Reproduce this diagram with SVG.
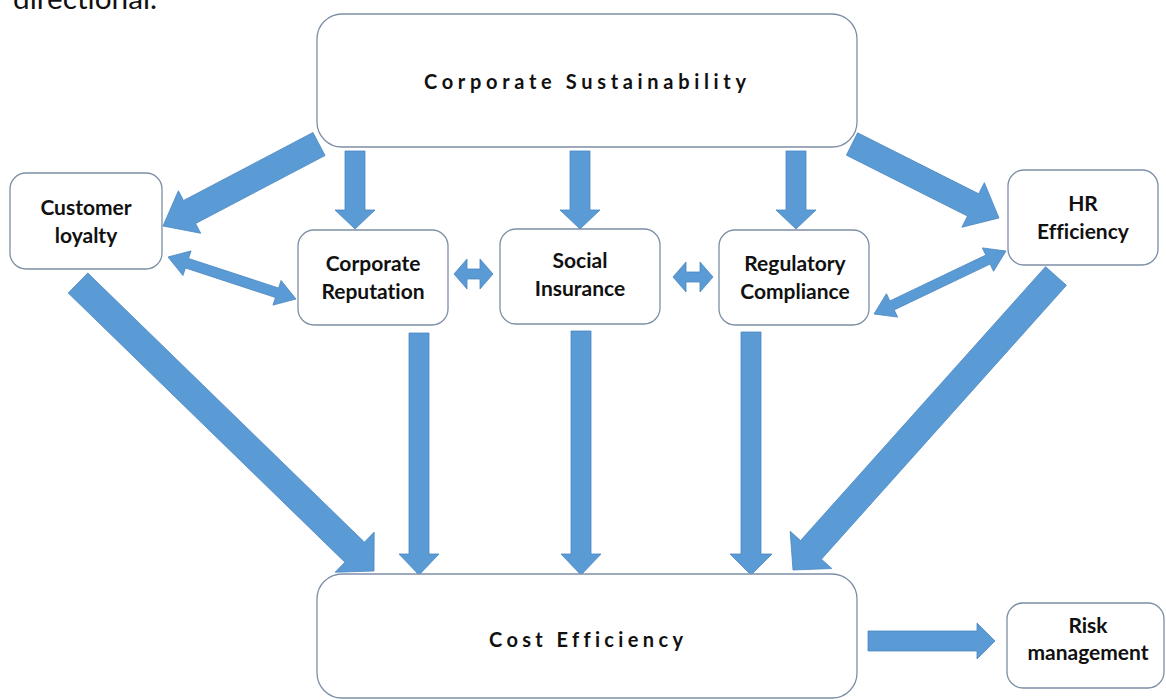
<svg xmlns="http://www.w3.org/2000/svg" width="1166" height="700" viewBox="0 0 1166 700">
  <style>
    text { font-variant-ligatures: none; font-feature-settings: "liga" 0; }
    .box { fill: #ffffff; stroke: #7d8fa6; stroke-width: 1.3; }
    .lbl { font-family: Lato, "Open Sans", "Liberation Sans", sans-serif; font-weight: bold; font-size: 21px; fill: #111111; text-anchor: middle; }
    .title { font-family: Lato, "Open Sans", "Liberation Sans", sans-serif; font-weight: bold; font-size: 20px; fill: #111111; }
    .body { font-family: Lato, "Open Sans", "Liberation Sans", sans-serif; font-size: 29px; fill: #111111; }
    .arrow { fill: #5b9bd5; stroke: #4a86c0; stroke-width: 0.8; stroke-linejoin: miter; }
  </style>

  <rect width="1166" height="700" fill="#ffffff"/>

  <!-- tail of the preceding paragraph -->
  <text class="body" x="13" y="9" textLength="144" lengthAdjust="spacingAndGlyphs">directional.</text>

  <!-- connectors -->
  <g id="connectors">
    <!-- Corporate Sustainability -> Customer loyalty -->
    <polygon class="arrow" points="312.95,132.49 325.05,155.51 195.61,223.55 200.73,233.29 163,226 178.39,190.79 183.51,200.53"/>
    <!-- Corporate Sustainability -> Corporate Reputation / Social Insurance / Regulatory Compliance -->
    <polygon class="arrow" points="345,151 365,151 365,210 375,210 355,229 335,210 345,210"/>
    <polygon class="arrow" points="570,151 590,151 590,210 600,210 580,229 560,210 570,210"/>
    <polygon class="arrow" points="786,151 806,151 806,210 816,210 796,229 776,210 786,210"/>
    <!-- Corporate Sustainability -> HR Efficiency -->
    <polygon class="arrow" points="857.62,132.84 846.38,155.16 967.48,216.12 961.86,227.29 999,218 984.34,182.63 978.72,193.8"/>

    <!-- Customer loyalty <-> Corporate Reputation -->
    <polygon class="arrow" points="168,257 191.05,250.89 188.56,258.49 278.56,288.01 281.05,280.41 296,299 272.95,305.11 275.44,297.51 185.44,267.99 182.95,275.59"/>
    <!-- Corporate Reputation <-> Social Insurance -->
    <polygon class="arrow" points="454,274 467,259 467,269 480,269 480,259 493,274 480,289 480,279 467,279 467,289"/>
    <!-- Social Insurance <-> Regulatory Compliance -->
    <polygon class="arrow" points="673,277 686,262 686,272 700,272 700,262 713,277 700,292 700,282 686,282 686,292"/>
    <!-- Regulatory Compliance <-> HR Efficiency -->
    <polygon class="arrow" points="874,314 886.45,293.66 889.9,300.88 985.8,255.1 982.35,247.88 1006,251 993.55,271.34 990.1,264.12 894.2,309.9 897.65,317.12"/>

    <!-- Customer loyalty -> Cost Efficiency -->
    <polygon class="arrow" points="87.76,272.97 68.24,293.03 344.89,562.2 335.13,572.24 374,571 374.17,532.1 364.41,542.14"/>
    <!-- Corporate Reputation / Social Insurance / Regulatory Compliance -> Cost Efficiency -->
    <polygon class="arrow" points="409,333 429,333 429,554 439,554 419,575 399,554 409,554"/>
    <polygon class="arrow" points="571,331 591,331 591,554 601,554 581,575 561,554 571,554"/>
    <polygon class="arrow" points="741,332 761,332 761,554 772,554 751,575 730,554 741,554"/>
    <!-- HR Efficiency -> Cost Efficiency -->
    <polygon class="arrow" points="1045.57,266.67 1066.43,285.33 821.43,559.21 831.87,568.55 793,570 790.13,531.21 800.57,540.55"/>

    <!-- Cost Efficiency -> Risk management -->
    <polygon class="arrow" points="868,631 977,631 977,623 995,641 977,659 977,651 868,651"/>
  </g>

  <g id="corporate-sustainability">
    <rect class="box" x="317" y="14" width="540" height="133" rx="25"/>
    <text class="title" x="424" y="89" textLength="322" lengthAdjust="spacing">Corporate Sustainability</text>
  </g>

  <g id="customer-loyalty">
    <rect class="box" x="10" y="173" width="152" height="96" rx="16"/>
    <text class="lbl" x="86" y="215">Customer</text>
    <text class="lbl" x="86" y="243">loyalty</text>
  </g>

  <g id="corporate-reputation">
    <rect class="box" x="298" y="230" width="150" height="95" rx="16"/>
    <text class="lbl" x="373" y="271">Corporate</text>
    <text class="lbl" x="373" y="299">Reputation</text>
  </g>

  <g id="social-insurance">
    <rect class="box" x="500" y="229" width="160" height="95" rx="16"/>
    <text class="lbl" x="580" y="268">Social</text>
    <text class="lbl" x="580" y="296">Insurance</text>
  </g>

  <g id="regulatory-compliance">
    <rect class="box" x="719" y="230" width="150" height="95" rx="16"/>
    <text class="lbl" x="795" y="271">Regulatory</text>
    <text class="lbl" x="795" y="299">Compliance</text>
  </g>

  <g id="hr-efficiency">
    <rect class="box" x="1008" y="170" width="150" height="95" rx="16"/>
    <text class="lbl" x="1083" y="211">HR</text>
    <text class="lbl" x="1083" y="239">Efficiency</text>
  </g>

  <g id="cost-efficiency">
    <rect class="box" x="317" y="574" width="540" height="124" rx="25"/>
    <text class="title" x="489" y="647" textLength="194" lengthAdjust="spacing">Cost Efficiency</text>
  </g>

  <g id="risk-management">
    <rect class="box" x="1007" y="603" width="157" height="85" rx="16"/>
    <text class="lbl" x="1088" y="633">Risk</text>
    <text class="lbl" x="1088" y="660">management</text>
  </g>
</svg>
